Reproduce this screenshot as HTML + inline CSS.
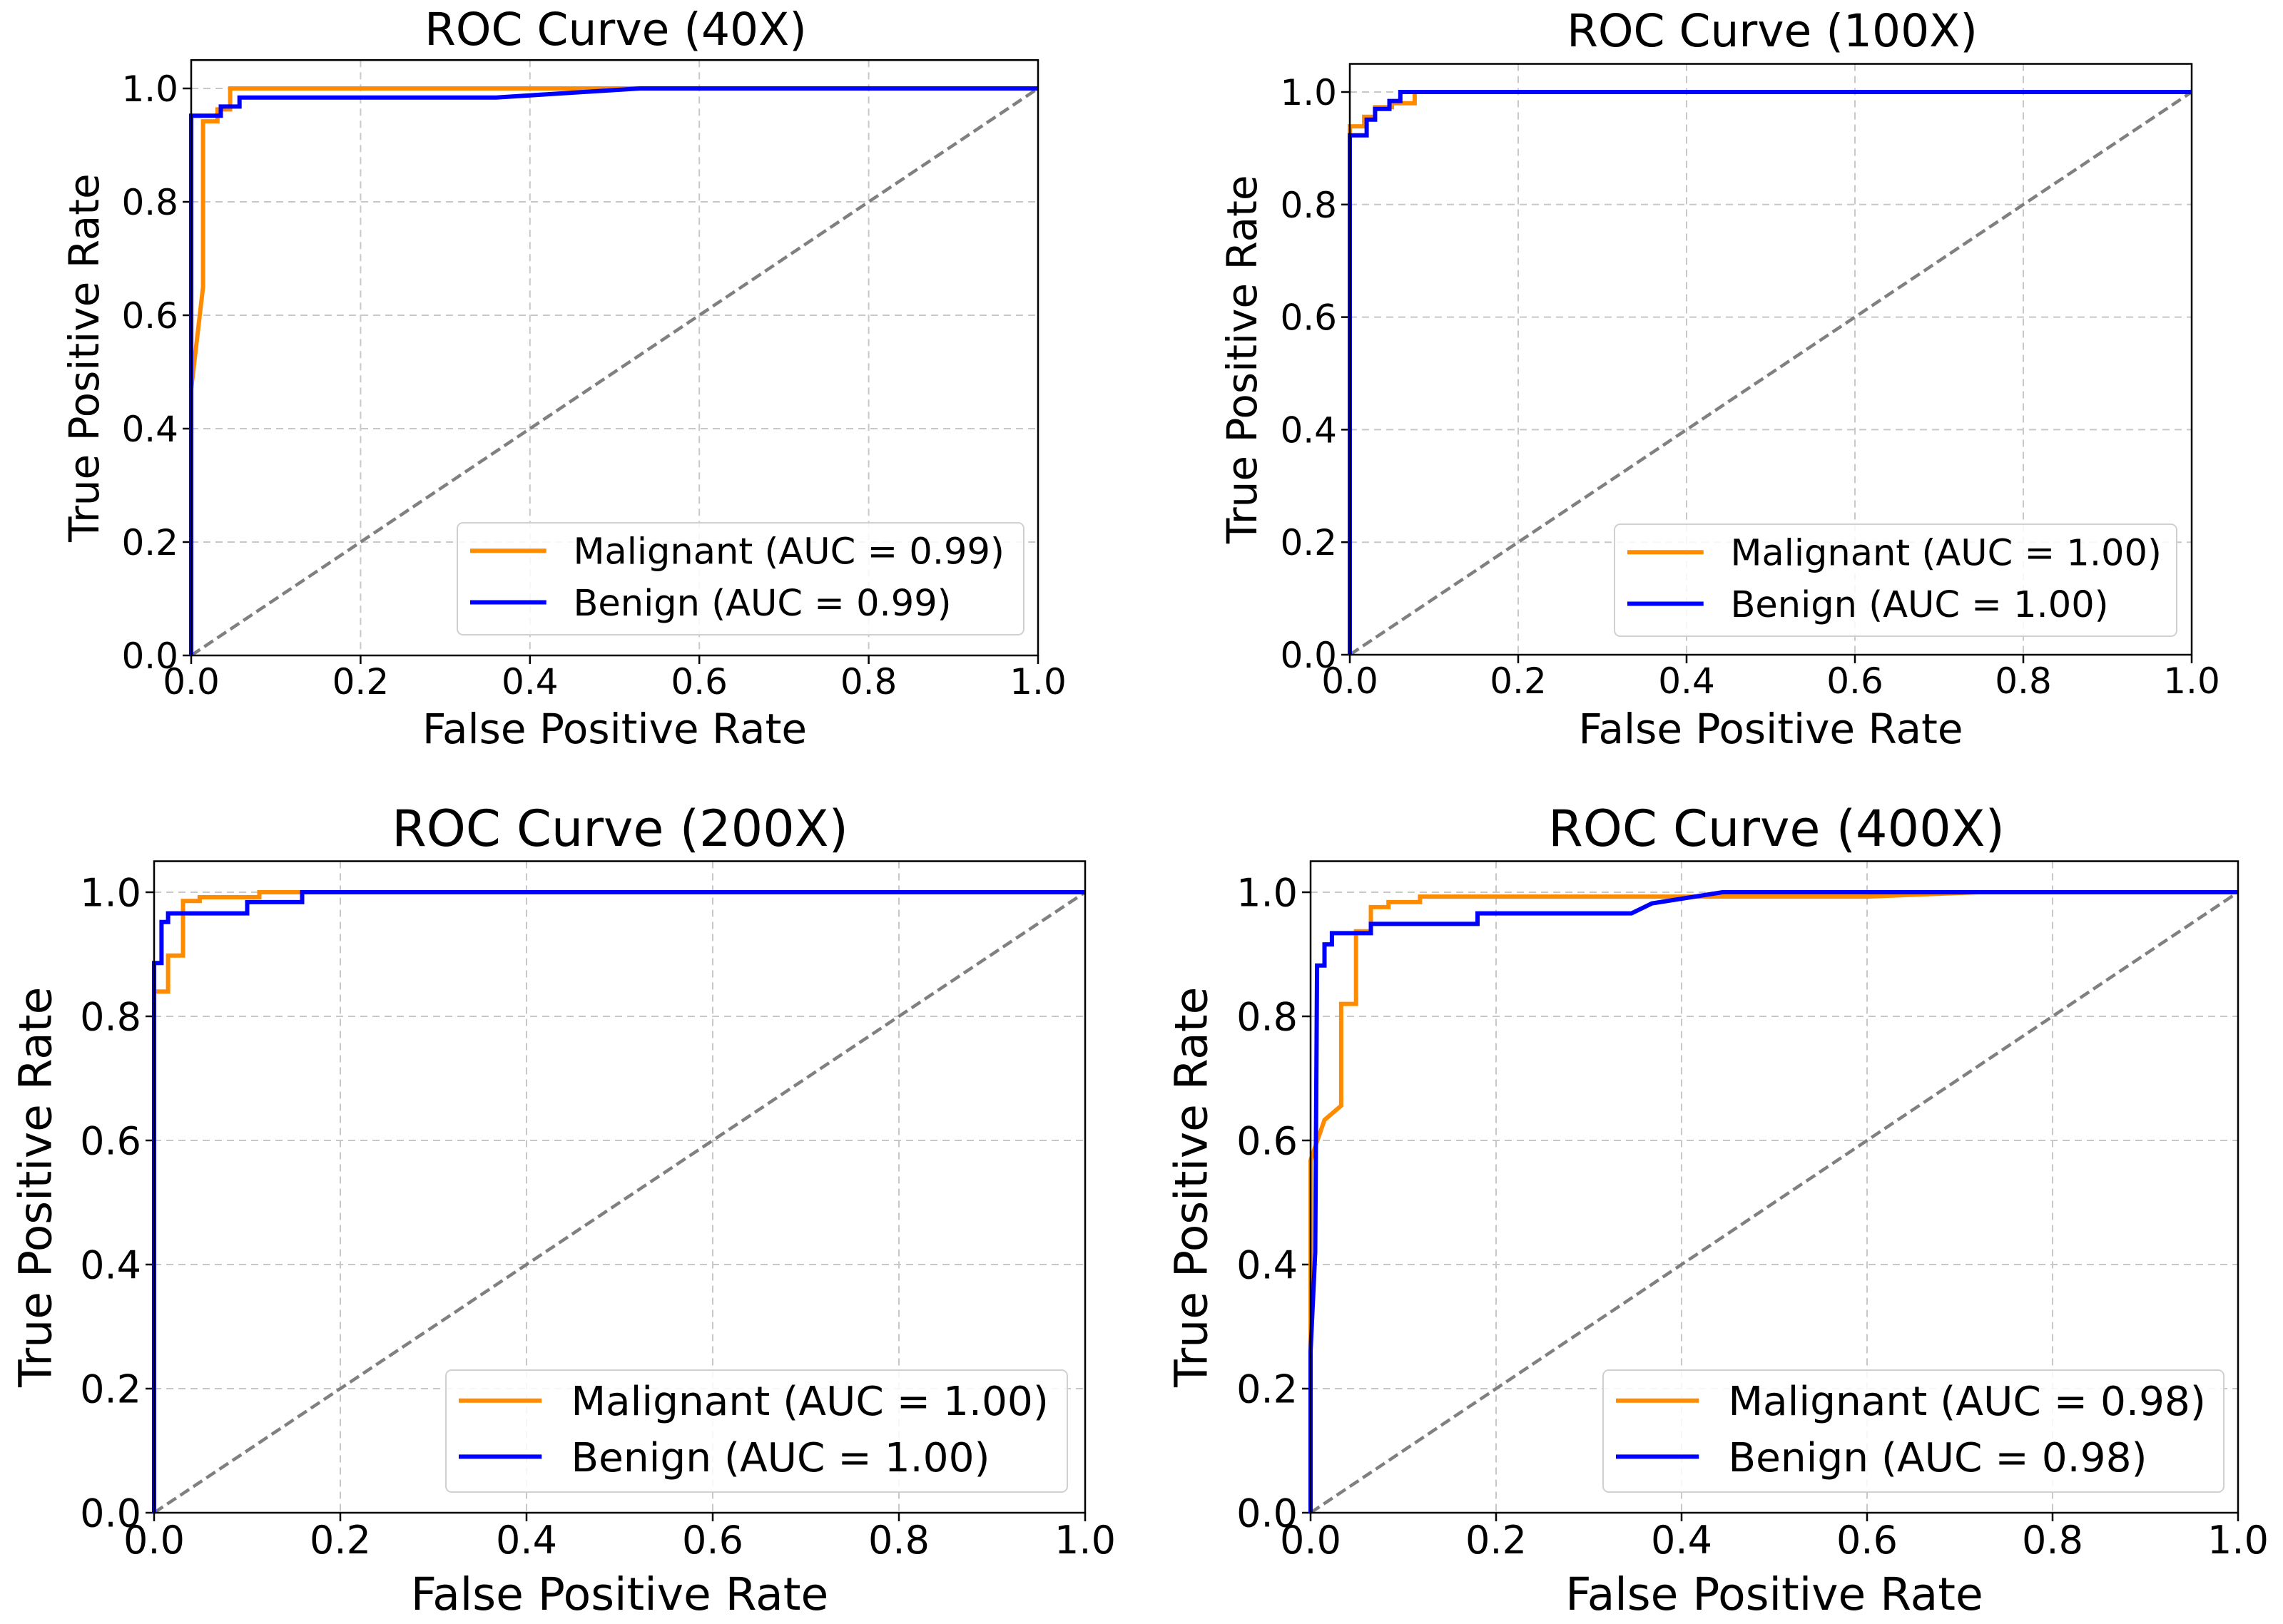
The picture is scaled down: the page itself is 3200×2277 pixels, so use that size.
<!DOCTYPE html>
<html><head><meta charset="utf-8"><style>
html,body{margin:0;padding:0;background:#fff}
svg{display:block;font-family:"DejaVu Sans","Liberation Sans",sans-serif}
</style></head><body>
<svg id="fig" width="3200" height="2277" viewBox="0 0 3200 2277" xmlns="http://www.w3.org/2000/svg"></svg>
<script>
const xTicks = [0, 0.2, 0.4, 0.6, 0.8, 1.0];
const yTicks = [0, 0.2, 0.4, 0.6, 0.8, 1.0];
const tickLabels = ["0.0","0.2","0.4","0.6","0.8","1.0"];
const panelTitles = ["ROC Curve (40X)","ROC Curve (100X)","ROC Curve (200X)","ROC Curve (400X)"];
const aucMalignant = ["0.99","1.00","1.00","0.98"];
const aucBenign = ["0.99","1.00","1.00","0.98"];
const mal40x = [0,0,0,0.014,0.014,0.031,0.031,0.046,0.046,1];
const mal40y = [0,0.47,0.47,0.65,0.942,0.942,0.963,0.963,1,1];
const ben40x = [0,0,0.035,0.035,0.057,0.057,0.36,0.53,1];
const ben40y = [0,0.952,0.952,0.968,0.968,0.984,0.984,1,1];
const mal100x = [0,0,0.017,0.017,0.03,0.03,0.05,0.05,0.077,0.077,1];
const mal100y = [0,0.939,0.939,0.956,0.956,0.973,0.973,0.98,0.98,1,1];
const ben100x = [0,0,0.02,0.02,0.03,0.03,0.047,0.047,0.06,0.06,1];
const ben100y = [0,0.923,0.923,0.951,0.951,0.97,0.97,0.984,0.984,1,1];
const mal200x = [0,0,0.015,0.015,0.031,0.031,0.049,0.049,0.113,0.113,1];
const mal200y = [0,0.84,0.84,0.898,0.898,0.986,0.986,0.992,0.992,1,1];
const ben200x = [0,0,0.008,0.008,0.015,0.015,0.1,0.1,0.159,0.159,1];
const ben200y = [0,0.886,0.886,0.952,0.952,0.966,0.966,0.984,0.984,1,1];
const mal400x = [0,0,0.015,0.033,0.033,0.049,0.049,0.065,0.065,0.084,0.084,0.118,0.118,0.6,0.72,1];
const mal400y = [0,0.568,0.633,0.656,0.82,0.82,0.937,0.937,0.976,0.976,0.984,0.984,0.993,0.993,1,1];
const ben400x = [0,0,0.005,0.007,0.007,0.015,0.015,0.023,0.023,0.065,0.065,0.18,0.18,0.346,0.368,0.444,1];
const ben400y = [0,0.26,0.42,0.882,0.882,0.882,0.916,0.916,0.934,0.934,0.949,0.949,0.966,0.966,0.982,1,1];

const NS="http://www.w3.org/2000/svg";
const svg=document.getElementById('fig');
function mk(tag,attrs,parent){const e=document.createElementNS(NS,tag);for(const k in attrs)e.setAttribute(k,attrs[k]);(parent||svg).appendChild(e);return e;}

const panels=[
 {L:268,R:1455,Y0:919,Y1:124,tf:63,lf:58,kf:50,gf:51,tx:863,ty:63,xly:1042,yx:118,mx:mal40x,my:mal40y,bx:ben40x,by:ben40y,lg:[641,733,794,157]},
 {L:1892,R:3072,Y0:918,Y1:129,tf:63,lf:58,kf:50,gf:51,tx:2484,ty:65,xly:1042,yx:1741,mx:mal100x,my:mal100y,bx:ben100x,by:ben100y,lg:[2263,735,788,157]},
 {L:216,R:1521,Y0:2121,Y1:1251,tf:70,lf:63,kf:54,gf:56.5,tx:869,ty:1186,xly:2257,yx:50,mx:mal200x,my:mal200y,bx:ben200x,by:ben200y,lg:[625,1921,871,171]},
 {L:1837,R:3137,Y0:2121,Y1:1251,tf:70,lf:63,kf:54,gf:56.5,tx:2490,ty:1186,xly:2257,yx:1670,mx:mal400x,my:mal400y,bx:ben400x,by:ben400y,lg:[2247,1921,870,171]}
];

panels.forEach((p,i)=>{
  const g=mk('g',{});
  
  
  const sx=v=>p.L+v*(p.R-p.L);
  const sy=v=>p.Y0-v*(p.Y0-p.Y1);
  const top=sy(1.05);
  xTicks.forEach((t,k)=>{
    const gl=mk('line',{x1:sx(t),x2:sx(t),y1:top,y2:p.Y0,stroke:'#c8c8c8','stroke-width':2,'stroke-dasharray':'10,7'},g);
    
    
    const tk=mk('line',{x1:sx(t),x2:sx(t),y1:p.Y0,y2:p.Y0+12,stroke:'#000','stroke-width':2.5},g);
    
    
    const tl=mk('text',{x:sx(t),y:p.Y0+16+p.kf*0.76,'font-size':p.kf,'text-anchor':'middle',fill:'#000'},g);
    tl.textContent=tickLabels[k];
    
    
  });
  yTicks.forEach((t,k)=>{
    const gl=mk('line',{x1:p.L,x2:p.R,y1:sy(t),y2:sy(t),stroke:'#c8c8c8','stroke-width':2,'stroke-dasharray':'10,7'},g);
    
    
    const tk=mk('line',{x1:p.L-12,x2:p.L,y1:sy(t),y2:sy(t),stroke:'#000','stroke-width':2.5},g);
    
    
    const tl=mk('text',{x:p.L-18,y:sy(t)+p.kf*0.36,'font-size':p.kf,'text-anchor':'end',fill:'#000'},g);
    tl.textContent=tickLabels[k];
    
    
  });
  const dg=mk('line',{x1:sx(0),y1:sy(0),x2:sx(1),y2:sy(1),stroke:'#808080','stroke-width':4.5,'stroke-dasharray':'15,7'},g);
  
  
  const pts=(xs,ys)=>xs.map((x,k)=>sx(x).toFixed(1)+','+sy(ys[k]).toFixed(1)).join(' ');
  const ml=mk('polyline',{points:pts(p.mx,p.my),fill:'none',stroke:'#ff8c00','stroke-width':6,'stroke-linejoin':'miter'},g);
  
  
  const bl=mk('polyline',{points:pts(p.bx,p.by),fill:'none',stroke:'#0000ff','stroke-width':6,'stroke-linejoin':'miter'},g);
  
  
  const fr=mk('rect',{x:p.L,y:top,width:p.R-p.L,height:p.Y0-top,fill:'none',stroke:'#000','stroke-width':2.5},g);
  
  
  const tt=mk('text',{x:p.tx,y:p.ty,'font-size':p.tf,'text-anchor':'middle',fill:'#000'},g);
  tt.textContent=panelTitles[i];
  
  
  const xl=mk('text',{x:(p.L+p.R)/2,y:p.xly,'font-size':p.lf,'text-anchor':'middle',fill:'#000'},g);
  xl.textContent='False Positive Rate';
  
  
  const ym=(top+p.Y0)/2;
  const yl=mk('text',{x:p.yx,y:ym,'font-size':p.lf,'text-anchor':'middle',fill:'#000',transform:'rotate(-90 '+p.yx+' '+ym+')','dominant-baseline':'central'},g);
  yl.textContent='True Positive Rate';
  
  
  const [lx,ly,lw,lh]=p.lg;
  const lgG=mk('g',{},g);
  
  
  mk('rect',{x:lx,y:ly,width:lw,height:lh,rx:8,fill:'#fff','fill-opacity':0.85,stroke:'#d0d0d0','stroke-width':2},lgG);
  const rows=[['#ff8c00','Malignant (AUC = '+aucMalignant[i]+')','legend-entry-malignant'],['#0000ff','Benign (AUC = '+aucBenign[i]+')','legend-entry-benign']];
  rows.forEach((r,k)=>{
    const yy=ly+lh*(0.25+0.46*k);
    const e=mk('g',{},lgG);
    
    
    mk('line',{x1:lx+18,x2:lx+18+lh*0.68,y1:yy,y2:yy,stroke:r[0],'stroke-width':6},e);
    const t=mk('text',{x:lx+18+lh*0.68+lh*0.24,y:yy+p.gf*0.36,'font-size':p.gf,fill:'#000'},e);
    t.textContent=r[1];
  });
});
</script>
</body></html>
